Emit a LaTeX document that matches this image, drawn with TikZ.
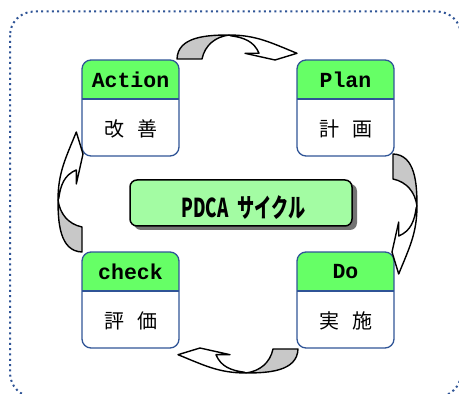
\documentclass[tikz,border=0pt]{standalone}
\usepackage{fontspec}
\newfontfamily\hdfont{Liberation Mono}
\newfontfamily\jpfont{Noto Sans CJK JP}
\definecolor{frameblue}{RGB}{47,84,150}
\definecolor{hdgreen}{RGB}{102,255,102}
\definecolor{ctrgreen}{RGB}{163,252,163}
\definecolor{ribgray}{RGB}{200,200,200}
\tikzset{
  boxline/.style={draw=frameblue, line width=1.3pt},
  hdtext/.style={font=\hdfont\bfseries\fontsize{21.5}{21.5}\selectfont, text=black, inner sep=0pt},
  bodytext/.style={font=\jpfont\fontsize{20}{20}\selectfont, inner sep=0pt},
  ribbon/.style={draw=black, line width=1.4pt, line join=round},
  stageframe/.style={boxline, rounded corners=9pt, minimum width=97pt, minimum height=96pt, anchor=north west, inner sep=0pt, outer sep=0pt},
}
\newcommand\stagebox[5]{%
  \begin{scope}
    \clip[rounded corners=9pt] (#2,#3-96) rectangle (#2+97,#3);
    \fill[hdgreen] (#2,#3-39) rectangle (#2+97,#3);
  \end{scope}
  \draw[boxline] (#2,#3-39) -- (#2+97,#3-39);
  \node[stageframe] (#1) at (#2,#3) {};
  \node[hdtext] (#1h) at (#2+48.5,#3-20) {#4};
  \node[bodytext] (#1b) at (#2+48.5,#3-69) {#5};
}
\newcommand\ribbonarrow[3]{%
  \begin{scope}[shift={(#1,#2)}, rotate=#3]
    \filldraw[ribbon, fill=ribgray] (-60,0) to[out=88,in=180] (-8,24) to[out=188,in=78] (-35,0) -- cycle;
    \filldraw[ribbon, fill=white] (-8,24) to[out=0,in=158] (60,5.7) -- (38,-1) -- (8,5.7) -- (22,5.7) to[out=112,in=-8] (-6,23.2) -- cycle;
  \end{scope}}
\begin{document}
\begin{tikzpicture}[x=1pt,y=1pt]
  \useasboundingbox (0,0) rectangle (459,394);
  \clip (0,0) rectangle (459,394);
  \draw[frameblue, line width=2pt, dash pattern=on 2pt off 3.3pt, rounded corners=24pt] (10,382.5) rectangle (461,-3);

  \stagebox{act}{82}{334}{Action}{改\hspace{13pt}善}
  \stagebox{plan}{297}{334}{Plan}{計\hspace{13pt}画}
  \stagebox{chk}{82}{142}{check}{評\hspace{13pt}価}
  \stagebox{do}{297}{142}{Do}{実\hspace{13pt}施}

  \ribbonarrow{237}{335}{0}
  \ribbonarrow{393}{180}{-90}
  \ribbonarrow{238}{45}{180}
  \ribbonarrow{82}{202}{90}

  \fill[black!55, rounded corners=7pt] (134,164) rectangle (357,210);
  \node[draw=black, line width=1.5pt, fill=ctrgreen, rounded corners=7pt, minimum width=222pt, minimum height=46pt, inner sep=0pt] (pdca) at (241,191) {};
  \node[inner sep=0pt] (pdcat) at (243.5,186) {\scalebox{0.66}[1]{\fontsize{26}{26}\jpfont\bfseries PDCA\hspace{14pt}サイクル}};
\end{tikzpicture}
\end{document}
